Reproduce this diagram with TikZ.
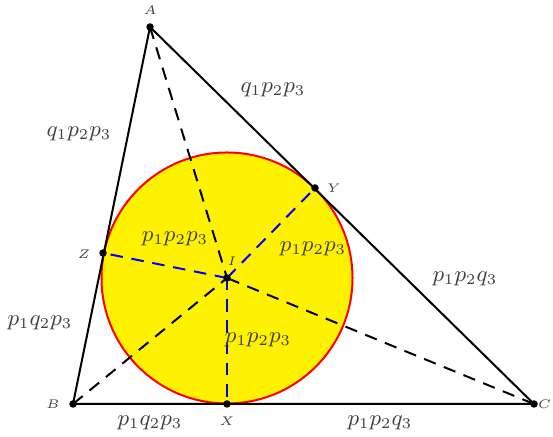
\documentclass[tikz,border=0pt]{standalone}
\begin{document}
\begin{tikzpicture}[x=0.4pt,y=-0.4pt,
  tri/.style={line width=0.8pt,black},
  blk/.style={line width=0.8pt,black,dash pattern=on 5pt off 3.5pt},
  blu/.style={line width=0.8pt,blue,dash pattern=on 5pt off 3.5pt},
  pt/.style={circle,fill=black,inner sep=0pt,minimum size=3pt},
  vlab/.style={font=\tiny,text=black!75},
  alab/.style={font=\small,text=black!75}]
\useasboundingbox (0,0) rectangle (553,437);
\coordinate (A) at (150,27);
\coordinate (B) at (73,404);
\coordinate (C) at (534,404);
\coordinate (X) at (227,404);
\coordinate (Y) at (315,188);
\coordinate (Z) at (103,253);
\coordinate (I) at (227,278);
\fill[yellow] (I) circle[radius=50.2pt];
\draw[red,line width=0.8pt] (I) circle[radius=50.2pt];
\draw[tri] (A) -- (B) -- (C) -- cycle;
\draw[blk] (A) -- (I);
\draw[blk] (B) -- (I);
\draw[blk] (C) -- (I);
\draw[blu] (I) -- (X);
\draw[blu] (I) -- (Y);
\draw[blu] (I) -- (Z);
\foreach \p in {A,B,C,X,Y,Z,I} \node[pt] (d\p) at (\p) {};
\node[vlab] (lA) at (150,10) {$A$};
\node[vlab] (lB) at (53,404) {$B$};
\node[vlab,anchor=east,inner sep=0.5pt] (lC) at (553,404) {$C$};
\node[vlab] (lX) at (227,421) {$X$};
\node[vlab] (lY) at (334,188) {$Y$};
\node[vlab] (lZ) at (84,254) {$Z$};
\node[vlab] (lI) at (232,261) {$I$};
\node[alab] (t1) at (79,134) {$q_1p_2p_3$};
\node[alab] (t2) at (273,90) {$q_1p_2p_3$};
\node[alab] (t3) at (175,239) {$p_1p_2p_3$};
\node[alab] (t4) at (313,249) {$p_1p_2p_3$};
\node[alab] (t5) at (465,279) {$p_1p_2q_3$};
\node[alab] (t6) at (40,323) {$p_1q_2p_3$};
\node[alab] (t7) at (258,340) {$p_1p_2p_3$};
\node[alab] (t8) at (150,423) {$p_1q_2p_3$};
\node[alab] (t9) at (380,423) {$p_1p_2q_3$};
\end{tikzpicture}
\end{document}
